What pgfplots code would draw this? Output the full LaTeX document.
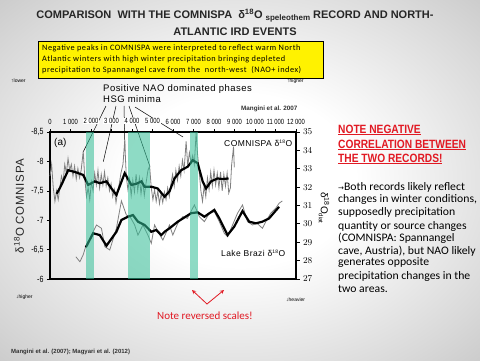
\documentclass[border=0pt]{standalone}
\usepackage{pgfplots}
\pgfplotsset{compat=1.18}
\usepackage{fontspec}
\setmainfont{Liberation Sans}
\newfontfamily\carl{Carlito}
\newfontfamily\boxf[LetterSpace=6]{Carlito}
\newfontfamily\bodyf[FakeStretch=1.02]{Carlito}
\newfontfamily\headf[FakeStretch=0.85]{Liberation Sans}
\newfontfamily\lsnarrow[FakeStretch=0.78]{Liberation Sans}
\newfontfamily\spaced[LetterSpace=5]{Liberation Sans}
\newfontfamily\spacedb[LetterSpace=6]{Liberation Sans}
\newfontfamily\dejavu{DejaVu Sans}
\definecolor{band}{RGB}{50,190,150}
\definecolor{rd}{RGB}{225,25,35}
\definecolor{gry}{RGB}{128,128,128}
\pgfdeclareradialshading{slidebg}{\pgfpointorigin}{color(0bp)=(white); color(12bp)=(white); color(30bp)=(black!15); color(50bp)=(black!33); color(72bp)=(black!42)}
\setlength{\fboxsep}{0.8pt}
\newcommand\wb[1]{\colorbox{white}{#1}}
\begin{document}
\begin{tikzpicture}[x=1pt,y=1pt]
\useasboundingbox (0,0) rectangle (480,360);
\shade[shading=slidebg] (0,0) rectangle (480,360);
% title
\node[font=\bfseries\fontsize{11}{12}\selectfont, text=black!85] at (235,344) {COMPARISON\ \ WITH THE COMNISPA\ \ δ\textsuperscript{18}O {\fontsize{8}{9}\selectfont\raisebox{-2pt}{speleothem}} RECORD AND NORTH-};
\node[font=\bfseries\fontsize{11}{12}\selectfont, text=black!85] at (235,328) {ATLANTIC IRD EVENTS};
% yellow box
\draw[fill=yellow, line width=0.8pt] (38,282) rectangle (323,319);
\node[anchor=west, inner sep=0, font=\boxf\fontsize{8.3}{9}\selectfont] at (42,312) {Negative peaks in COMNISPA were interpreted to reflect warm North};
\node[anchor=west, inner sep=0, font=\boxf\fontsize{8.3}{9}\selectfont] at (42,301) {Atlantic winters with high winter precipitation bringing depleted};
\node[anchor=west, inner sep=0, font=\boxf\fontsize{8.3}{9}\selectfont] at (42,290) {precipitation to Spannangel cave from the\ \ north-west\ \ (NAO+ index)};
% small side notes
\node[anchor=west, inner sep=0, font=\fontsize{5}{6}\selectfont] at (11,279) {↑lower};
\node[anchor=west, inner sep=0, font=\fontsize{5}{6}\selectfont] at (287,279) {↑higher};
\node[anchor=west, inner sep=0, font=\fontsize{5}{6}\selectfont] at (16,63) {↓higher};
\node[anchor=west, inner sep=0, font=\fontsize{5}{6}\selectfont] at (286,60) {↓heavier};
% NAO labels
\node[anchor=west, inner sep=0, font=\spaced\fontsize{9.5}{10}\selectfont] at (103,271) {Positive NAO dominated phases};
\node[anchor=west, inner sep=0, font=\spaced\fontsize{9.5}{10}\selectfont] at (103,261) {HSG minima};
\node[anchor=west, inner sep=0, font=\bfseries\fontsize{6.3}{7}\selectfont, text=black!80] at (241,251) {Mangini et al. 2007};
% pointer lines
\draw[line width=0.5pt] (106,254) -- (83.3,208.3);
\draw[line width=0.5pt] (116,254) -- (103.3,198.3);
\draw[line width=0.5pt] (124,254) -- (125,209);
\draw[line width=0.5pt] (129,254) -- (150,193.3);
\draw[line width=0.5pt] (135,253) -- (183,223);
% left axis: COMNISPA
\begin{axis}[at={(50pt,81pt)}, anchor=south west, scale only axis, width=246pt, height=147pt,
  xmin=0, xmax=12000, ymin=-8.5, ymax=-6, y dir=reverse,
  axis line style={line width=1.6pt},
  scaled x ticks=false, scaled y ticks=false,
  xtick={0,1000,...,12000},
  xticklabels={0,1 000,\wb{2 000},\wb{3 000},\wb{4 000},\wb{5 000},6 000,7 000,8 000,9 000,10 000,11 000,12 000},
  xtick pos=right, xticklabel pos=right,
  xticklabel style={font=\lsnarrow\fontsize{7.5}{8}\selectfont, yshift=1pt},
  ytick={-8.5,-8,-7.5,-7,-6.5,-6},
  yticklabels={{-8,5},-8,{-7,5},-7,{-6,5},-6},
  ytick pos=left,
  yticklabel style={font=\lsnarrow\fontsize{9}{10}\selectfont},
  tick style={black, line width=0.6pt}, major tick length=3pt, tick align=outside,
  clip=false]
\addplot[gry, line width=0.8pt] coordinates {
(0,-7.75)(80,-7.95)(160,-7.55)(240,-7.32)(320,-7.50)(400,-7.35)(480,-7.55)(560,-7.75)(640,-7.65)(720,-7.95)(800,-7.80)(880,-8.05)(960,-7.85)(1040,-7.95)(1120,-7.75)(1200,-7.92)(1280,-7.70)(1360,-7.88)(1440,-7.72)(1520,-7.85)(1620,-8.17)(1700,-7.70)(1780,-7.40)(1860,-7.55)(1940,-7.35)(2020,-7.65)(2100,-7.50)(2180,-7.80)(2260,-7.60)(2340,-7.85)(2420,-7.55)(2500,-7.78)(2580,-7.60)(2660,-7.82)(2740,-7.58)(2820,-7.72)(2900,-7.50)(2980,-7.62)(3060,-7.40)(3140,-7.52)(3220,-7.30)(3300,-7.48)(3380,-7.62)(3460,-7.80)(3560,-7.95)(3644,-8.35)(3720,-7.75)(3800,-7.52)(3880,-7.70)(3960,-7.42)(4040,-7.68)(4120,-7.48)(4200,-7.78)(4280,-7.50)(4360,-7.72)(4440,-7.45)(4520,-7.68)(4600,-7.42)(4680,-7.62)(4780,-7.85)(4860,-7.92)(4940,-7.55)(5020,-7.35)(5100,-7.52)(5180,-7.32)(5260,-7.50)(5340,-7.28)(5420,-7.45)(5500,-7.30)(5580,-7.48)(5660,-7.35)(5740,-7.55)(5820,-7.40)(5900,-7.62)(5980,-7.78)(6060,-7.58)(6140,-7.85)(6220,-7.68)(6300,-7.92)(6380,-7.75)(6460,-8.02)(6540,-7.85)(6640,-8.34)(6720,-7.92)(6800,-8.15)(6880,-7.98)(6960,-8.10)(7040,-7.95)(7127,-8.48)(7200,-8.12)(7280,-7.82)(7360,-7.50)(7440,-7.32)(7520,-7.58)(7600,-7.40)(7680,-7.72)(7760,-7.52)(7840,-7.82)(7920,-7.58)(8000,-7.85)(8080,-7.60)(8160,-7.80)(8240,-7.55)(8320,-7.82)(8400,-7.50)(8480,-7.78)(8560,-7.58)(8640,-7.80)(8720,-7.46)(8800,-7.55)(8860,-7.94)(8953,-8.25)(8990,-7.90)};
\addplot[black, line width=2.2pt] coordinates {
(325,-7.45)(486,-7.55)(889,-7.85)(1215,-7.82)(1618,-7.77)(1861,-7.60)(2186,-7.66)(2430,-7.63)(2754,-7.66)(3000,-7.54)(3240,-7.43)(3644,-7.80)(3969,-7.60)(4212,-7.62)(4455,-7.66)(4615,-7.57)(4941,-7.57)(5250,-7.54)(5587,-7.40)(5829,-7.49)(6072,-7.71)(6398,-7.85)(6719,-7.91)(6961,-8.02)(7204,-7.97)(7447,-7.66)(7612,-7.54)(7855,-7.66)(8176,-7.71)(8419,-7.70)(8710,-7.71)};
\end{axis}
% right axis: Lake Brazi
\begin{axis}[at={(50pt,81pt)}, anchor=south west, scale only axis, width=246pt, height=147pt,
  xmin=0, xmax=12000, ymin=27, ymax=35,
  axis x line=none, axis y line*=right, xtick=\empty, scaled x ticks=false,
  y axis line style={line width=1.6pt, -},
  ytick={27,...,35},
  yticklabel style={font=\lsnarrow\fontsize{9}{10}\selectfont},
  tick style={black, line width=0.8pt}, major tick length=3.5pt, tick align=outside]
\addplot[gry, line width=0.8pt] coordinates {
(1263,28.21)(1457,27.94)(1618,28.31)(1750,28.80)(1943,29.21)(2268,29.94)(2510,29.76)(2672,28.76)(2915,28.58)(3240,29.76)(3483,31.25)(3726,30.48)(3900,30.40)(4130,29.94)(4290,29.39)(4533,29.94)(4776,29.39)(4941,28.94)(5100,29.94)(5300,29.5)(5507,29.12)(5830,29.94)(5990,29.39)(6233,30.03)(6476,30.39)(6700,30.30)(7044,31.03)(7287,30.39)(7530,30.12)(7773,30.58)(8016,30.66)(8259,30.12)(8502,29.49)(8664,29.30)(8905,29.94)(9148,30.58)(9391,31.03)(9633,30.12)(9876,29.94)(10100,30.03)(10362,29.76)(10525,30.12)(10769,30.58)(11012,30.85)(11174,31.12)(11334,31.25)};
\addplot[black, line width=2.2pt] coordinates {
(1750,28.73)(2104,29.49)(2429,29.39)(2754,28.81)(3240,29.57)(3483,30.21)(3804,30.39)(4047,30.48)(4290,30.12)(4615,29.94)(4941,29.57)(5183,29.67)(5426,29.39)(5587,29.57)(5830,29.76)(6233,30.12)(6884,30.58)(7204,30.63)(7530,30.39)(8016,30.76)(8259,30.30)(8662,29.39)(8987,29.85)(9391,30.70)(9716,30.12)(10042,30.03)(10362,30.12)(10688,30.30)(11174,30.93)};
\addplot[draw=none, fill=band, fill opacity=0.55] coordinates {(1750,27)(2140,27)(2140,35)(1750,35)} -- cycle;
\addplot[draw=none, fill=band, fill opacity=0.55] coordinates {(3800,27)(4855,27)(4855,35)(3800,35)} -- cycle;
\addplot[draw=none, fill=band, fill opacity=0.55] coordinates {(6850,27)(7235,27)(7235,35)(6850,35)} -- cycle;
\end{axis}
% in-plot labels
\node[anchor=west, inner sep=0, font=\fontsize{10}{11}\selectfont] at (54,217) {(a)};
\node[anchor=west, inner sep=0, font=\spaced\fontsize{8.5}{9}\selectfont] at (224,217) {COMNISPA δ\textsuperscript{\tiny 18}O};
\node[anchor=west, inner sep=0, font=\spaced\fontsize{8.5}{9}\selectfont] at (221,107) {Lake Brazi δ\textsuperscript{\tiny 18}O};
\node[rotate=90, inner sep=0, font=\spacedb\fontsize{11.5}{12}\selectfont, text=black!85] at (19,154) {δ\textsuperscript{18}O COMNISPA};
\node[rotate=-90, inner sep=0, font=\fontsize{10}{11}\selectfont] at (324,152) {δ\textsuperscript{18}O\raisebox{-2pt}{\fontsize{6}{7}\selectfont diat}};
% right-hand text
\node[anchor=west, inner sep=0, text=rd, font=\headf\bfseries\fontsize{12}{13}\selectfont] at (338,230) {\underline{NOTE NEGATIVE}};
\node[anchor=west, inner sep=0, text=rd, font=\headf\bfseries\fontsize{12}{13}\selectfont] at (338,215) {\underline{CORRELATION BETWEEN}};
\node[anchor=west, inner sep=0, text=rd, font=\headf\bfseries\fontsize{12}{13}\selectfont] at (338,201) {\underline{THE TWO RECORDS!}};
\node[anchor=west, inner sep=0, font=\bodyf\fontsize{11.5}{12}\selectfont] at (338,173) {{\dejavu\fontsize{7}{8}\selectfont →}Both records likely reflect};
\node[anchor=west, inner sep=0, font=\bodyf\fontsize{11.5}{12}\selectfont] at (338,161) {changes in winter conditions,};
\node[anchor=west, inner sep=0, font=\bodyf\fontsize{11.5}{12}\selectfont] at (338,148) {supposedly precipitation};
\node[anchor=west, inner sep=0, font=\bodyf\fontsize{11.5}{12}\selectfont] at (338,134) {quantity or source changes};
\node[anchor=west, inner sep=0, font=\bodyf\fontsize{11.5}{12}\selectfont] at (338,122) {(COMNISPA: Spannangel};
\node[anchor=west, inner sep=0, font=\bodyf\fontsize{11.5}{12}\selectfont] at (338,109) {cave, Austria), but NAO likely};
\node[anchor=west, inner sep=0, font=\bodyf\fontsize{11.5}{12}\selectfont] at (338,97) {generates opposite};
\node[anchor=west, inner sep=0, font=\bodyf\fontsize{11.5}{12}\selectfont] at (338,84) {precipitation changes in the};
\node[anchor=west, inner sep=0, font=\bodyf\fontsize{11.5}{12}\selectfont] at (338,71) {two areas.};
% reversed scales note
\draw[rd, line width=0.8pt, <->, >=stealth] (192,70) -- (207,56) -- (224,70);
\node[inner sep=0, text=rd, font=\carl\fontsize{11}{12}\selectfont] at (205,44) {Note reversed scales!};
\node[anchor=west, inner sep=0, font=\bfseries\fontsize{6}{7}\selectfont, text=black!80] at (11,8) {Mangini et al. (2007); Magyari et al. (2012)};
\end{tikzpicture}
\end{document}
